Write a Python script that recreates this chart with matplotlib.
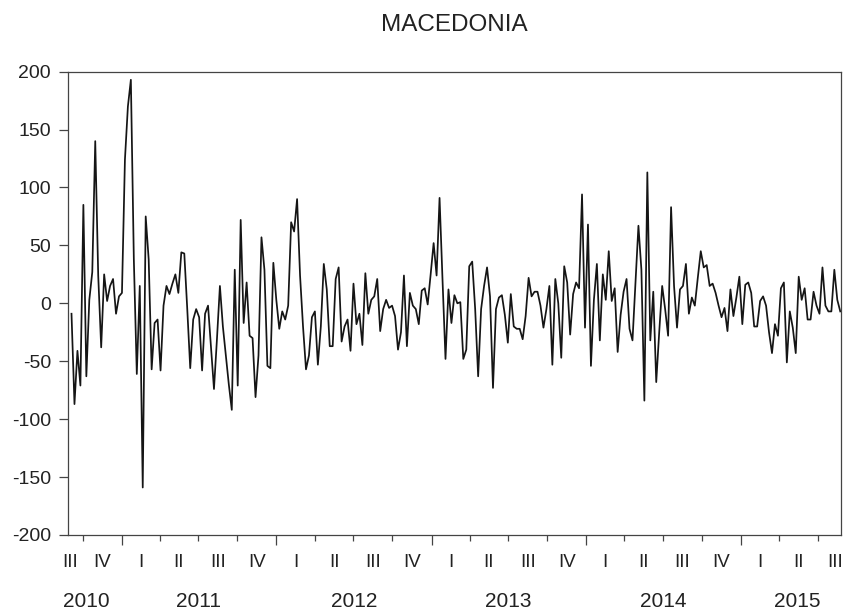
import numpy as np
import pandas as pd
import matplotlib
matplotlib.use("Agg")
import matplotlib.pyplot as plt
import matplotlib.dates as mdates

title = "MACEDONIA"
start_week = "2010-09-05"
# weekly values
values = [
    -9, -87, -41, -71, 85, -63, 3, 27, 140, 24,
    -38, 25, 2, 15, 21, -9, 6, 9, 124, 170,
    193, 38, -61, 15, -159, 75, 38, -57, -17, -14,
    -58, -2, 15, 8, 17, 25, 9, 44, 43, -5,
    -56, -14, -5, -12, -58, -9, -2, -38, -74, -31,
    15, -20, -45, -70, -92, 29, -71, 72, -17, 18,
    -28, -30, -81, -45, 57, 29, -54, -56, 35, 3,
    -22, -7, -14, -2, 70, 62, 90, 24, -20, -57,
    -45, -12, -7, -53, -20, 34, 12, -37, -37, 21,
    31, -33, -20, -14, -41, 17, -18, -9, -36, 26,
    -9, 3, 6, 21, -24, -5, 3, -4, -2, -11,
    -40, -25, 24, -37, 9, -2, -5, -18, 11, 13,
    -1, 25, 52, 24, 91, 20, -48, 12, -17, 7,
    0, 1, -48, -40, 32, 36, -5, -63, -5, 15,
    31, 6, -73, -5, 5, 7, -10, -34, 8, -20,
    -22, -22, -31, -11, 22, 6, 10, 10, -2, -21,
    -5, 15, -53, 21, 0, -47, 32, 18, -27, 8,
    18, 13, 94, -21, 68, -54, 3, 34, -32, 25,
    3, 45, 2, 13, -42, -10, 10, 21, -22, -32,
    18, 67, 29, -84, 113, -32, 10, -68, -25, 15,
    -5, -28, 83, 15, -21, 12, 15, 34, -9, 5,
    -2, 22, 45, 31, 33, 15, 17, 9, -2, -12,
    -4, -24, 12, -11, 5, 23, -18, 16, 18, 9,
    -20, -20, 2, 6, -2, -25, -43, -18, -28, 13,
    18, -51, -7, -21, -43, 23, 3, 13, -14, -14,
    10, -2, -9, 31, -2, -7, -7, 29, 3, -7,
]
y_ticks = [-200, -150, -100, -50, 0, 50, 100, 150, 200]
quarter_names = ["I", "II", "III", "IV"]

plt.rcParams["font.family"] = ["Liberation Sans", "DejaVu Sans"]
plt.rcParams["axes.unicode_minus"] = False
text_color = "#222222"

dates = pd.date_range(start_week, periods=len(values), freq="7D")

fig = plt.figure(figsize=(8.45, 6.14), dpi=100)
ax = fig.add_axes([0.0801, 0.1287, 0.9148, 0.7546])
ax.plot(dates, values, color="#151515", lw=1.25)

x0 = dates[0] - pd.Timedelta(days=9)
x1 = dates[-1] + pd.Timedelta(days=1)
ax.set_xlim(x0, x1)
ax.set_ylim(-200, 200)
ax.set_yticks(y_ticks)
ax.tick_params(axis="y", direction="out", length=6.5, width=0.9, pad=5.5,
               labelsize=14, colors="#444444", labelcolor=text_color)

# quarter / year ticks (EViews style)
q_starts = pd.date_range("2010-07-01", "2015-10-01", freq="QS")
year_starts = [d for d in q_starts if d.month == 1]
other_q = [d for d in q_starts if d.month != 1 and x0 < d < x1]
ax.set_xticks(year_starts)
ax.set_xticks(other_q, minor=True)
ax.tick_params(axis="x", which="major", direction="out", length=7.5, width=0.9,
               colors="#444444", labelbottom=False)
ax.tick_params(axis="x", which="minor", direction="out", length=4.5, width=0.9,
               colors="#444444", labelbottom=False)

for s in ax.spines.values():
    s.set_color("#444444")
    s.set_linewidth(0.9)

lo = mdates.date2num(x0 + pd.Timedelta(days=6))
hi = mdates.date2num(x1 - pd.Timedelta(days=13))
year_pos = {}
for a, b in zip(q_starts[:-1], q_starts[1:]):
    mid = mdates.date2num(a + (b - a) / 2)
    mid = min(max(mid, lo), hi)
    ax.annotate(quarter_names[(a.month - 1) // 3], xy=(mid, 0),
                xycoords=("data", "axes fraction"), xytext=(0, -22.8),
                textcoords="offset points", ha="center", va="baseline",
                fontsize=13.5, color=text_color)
    year_pos.setdefault(a.year, []).append(mid)

for yr, mids in year_pos.items():
    ax.annotate(str(yr), xy=((mids[0] + mids[-1]) / 2, 0),
                xycoords=("data", "axes fraction"), xytext=(0, -52),
                textcoords="offset points", ha="center", va="baseline",
                fontsize=15, color=text_color)

fig.text(454 / 845, 1 - 30.7 / 614, title, ha="center", va="baseline",
         fontsize=17.5, color=text_color)

fig.savefig("out.png", dpi=100)
